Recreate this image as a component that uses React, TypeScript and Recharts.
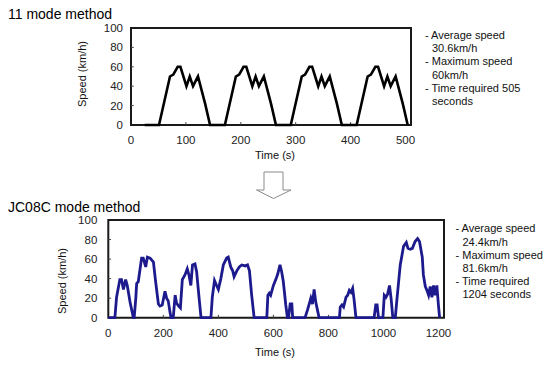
import React from "react";
import {
  LineChart,
  Line,
  XAxis,
  YAxis,
  ReferenceArea,
  ReferenceLine,
} from "recharts";

const FONT = '"Liberation Sans", Arial, sans-serif';

// 11 mode: four repetitions of the same urban cycle
const modeTimes = [
  25, 51, 71, 77, 85, 90, 101, 107, 113, 122, 135, 144,
  171, 191, 197, 205, 210, 221, 227, 233, 242, 255, 264,
  291, 311, 317, 325, 330, 341, 347, 353, 362, 375, 384,
  411, 431, 437, 445, 450, 461, 467, 473, 482, 495, 504,
];
const modeSpeeds = [
  0, 0, 50, 52, 60, 60, 40, 50, 40, 50, 22, 0,
  0, 50, 52, 60, 60, 40, 50, 40, 50, 22, 0,
  0, 50, 52, 60, 60, 40, 50, 40, 50, 22, 0,
  0, 50, 52, 60, 60, 40, 50, 40, 50, 22, 0,
];

// JC08C mode
const jcTimes = [
  0, 24, 30, 42, 48, 55, 63, 69, 79, 91,
  94, 100, 103, 109, 121, 127, 136, 142, 152, 164,
  172, 182, 188, 196, 206, 212, 218, 224, 228, 236,
  243, 248, 255, 262, 269, 279, 287, 293, 300, 306,
  315, 321, 330, 337, 373, 378, 386, 392, 400, 409,
  418, 430, 436, 445, 452, 457, 467, 476, 485, 497,
  506, 513, 521, 530, 576, 580, 585, 590, 600, 610,
  616, 624, 630, 636, 645, 651, 655, 661, 667, 670,
  715, 724, 731, 736, 742, 748, 754, 760, 766, 840,
  843, 849, 855, 864, 870, 876, 882, 888, 893, 900,
  966, 972, 977, 982, 998, 1003, 1009, 1015, 1022, 1028,
  1034, 1043, 1049, 1061, 1073, 1083, 1089, 1097, 1105, 1115,
  1124, 1131, 1141, 1145, 1152, 1158, 1164, 1170, 1176, 1182,
  1188, 1194, 1200, 1204,
];
const jcSpeeds = [
  0, 0, 21, 39, 39, 29, 39, 33, 16, 0,
  0, 20, 35, 37, 61, 61, 52, 62, 61, 57,
  37, 14, 12, 13, 27, 20, 17, 6, 0, 0,
  23, 15, 12, 10, 39, 44, 50, 44, 33, 54,
  55, 47, 20, 0, 0, 21, 38, 34, 29, 40,
  54, 61, 62, 52, 48, 42, 48, 52, 54, 53,
  54, 48, 23, 0, 0, 23, 25, 23, 33, 40,
  45, 54, 47, 37, 13, 0, 0, 14, 14, 0,
  0, 8, 15, 20, 14, 29, 16, 8, 0, 0,
  11, 13, 11, 21, 23, 28, 26, 30, 19, 0,
  0, 13, 13, 0, 0, 23, 21, 24, 33, 19,
  0, 0, 19, 54, 73, 77, 71, 70, 71, 78,
  81, 78, 62, 44, 32, 28, 23, 32, 21, 33,
  23, 33, 12, 0,
];

const speedTicks = [0, 20, 40, 60, 80, 100];
const modeTimeTicks = [0, 100, 200, 300, 400, 500];
const jcTimeTicks = [0, 200, 400, 600, 800, 1000, 1200];

const modeNotes = [
  ["- Average speed", "30.6km/h"],
  ["- Maximum speed", "60km/h"],
  ["- Time required 505", "seconds"],
];
const jcNotes = [
  ["- Average speed", "24.4km/h"],
  ["- Maximum speed", "81.6km/h"],
  ["- Time required", "1204 seconds"],
];

const modeData = modeTimes.map((t, i) => ({ t, v: modeSpeeds[i] }));
const jcData = jcTimes.map((t, i) => ({ t, v: jcSpeeds[i] }));

const tickStyle = { fill: "#222", fontSize: 11.5, fontFamily: FONT };

function Notes({ items, left, top }: { items: string[][]; left: number; top: number }) {
  return (
    <div
      style={{
        position: "absolute",
        left,
        top,
        fontFamily: FONT,
        fontSize: 11,
        lineHeight: "13.2px",
        color: "#111",
        whiteSpace: "nowrap",
      }}
    >
      {items.map((it, i) => (
        <div key={i}>
          <div>{it[0]}</div>
          <div style={{ paddingLeft: 7 }}>{it[1]}</div>
        </div>
      ))}
    </div>
  );
}

function Label({ text, x, y, rotate }: { text: string; x: number; y: number; rotate?: boolean }) {
  return (
    <div
      style={{
        position: "absolute",
        left: x,
        top: y,
        transform: `translate(-50%, -50%)${rotate ? " rotate(-90deg)" : ""}`,
        fontFamily: FONT,
        fontSize: 11,
        lineHeight: "12px",
        color: "#111",
        whiteSpace: "nowrap",
      }}
    >
      {text}
    </div>
  );
}

function Title({ text, top }: { text: string; top: number }) {
  return (
    <div
      style={{
        position: "absolute",
        left: 8,
        top,
        fontFamily: FONT,
        fontSize: 14,
        lineHeight: "14px",
        color: "#000",
        whiteSpace: "nowrap",
      }}
    >
      {text}
    </div>
  );
}

export default function App() {
  return (
    <div
      style={{
        position: "absolute",
        left: 0,
        top: 0,
        width: 555,
        height: 368,
        background: "#fff",
        overflow: "hidden",
      }}
    >
      <Title text="11 mode method" top={6.5} />
      <div style={{ position: "absolute", left: 0, top: 0 }}>
        <LineChart
          width={430}
          height={170}
          data={modeData}
          margin={{ top: 28, right: 19, bottom: 15, left: 91 }}
        >
          <XAxis
            type="number"
            dataKey="t"
            domain={[0, 510]}
            ticks={modeTimeTicks}
            height={30}
            axisLine={false}
            tickLine={false}
            tickSize={0}
            tickMargin={11}
            tick={tickStyle}
          />
          <YAxis
            type="number"
            domain={[0, 100]}
            ticks={speedTicks}
            width={40}
            axisLine={false}
            tickLine={false}
            tickSize={0}
            tickMargin={8}
            tick={tickStyle}
          />
          {modeTimeTicks.slice(1, -1).map((t) => (
            <ReferenceLine
              key={"x" + t}
              segment={[{ x: t, y: 0 }, { x: t, y: 3 }]}
              stroke="#444"
              strokeWidth={1}
            />
          ))}
          {speedTicks.slice(1, -1).map((s) => (
            <ReferenceLine
              key={"y" + s}
              segment={[{ x: 0, y: s }, { x: 5, y: s }]}
              stroke="#444"
              strokeWidth={1}
            />
          ))}
          <ReferenceArea
            x1={0}
            x2={510}
            y1={0}
            y2={100}
            fill="none"
            fillOpacity={0}
            stroke="#1a1a1a"
            strokeWidth={2}
          />
          <Line
            type="linear"
            dataKey="v"
            stroke="#000"
            strokeWidth={2.6}
            dot={false}
            isAnimationActive={false}
          />
        </LineChart>
      </div>
      <Label text="Speed (km/h)" x={82} y={74} rotate />
      <Label text="Time (s)" x={275} y={155} />
      <Notes items={modeNotes} left={425} top={29} />

      <svg
        width={555}
        height={368}
        style={{ position: "absolute", left: 0, top: 0, pointerEvents: "none" }}
      >
        <polygon
          points="264,172 283,172 283,190 291,190 273.5,198.5 256.5,190 264,190"
          fill="#fff"
          stroke="#8a8a8a"
          strokeWidth={1}
        />
      </svg>

      <Title text="JC08C mode method" top={199.6} />
      <div style={{ position: "absolute", left: 0, top: 195 }}>
        <LineChart
          width={460}
          height={173}
          data={jcData}
          margin={{ top: 25, right: 16, bottom: 20.3, left: 68.3 }}
        >
          <XAxis
            type="number"
            dataKey="t"
            domain={[0, 1220]}
            ticks={jcTimeTicks}
            height={30}
            axisLine={false}
            tickLine={false}
            tickSize={0}
            tickMargin={11}
            tick={tickStyle}
          />
          <YAxis
            type="number"
            domain={[0, 100]}
            ticks={speedTicks}
            width={40}
            axisLine={false}
            tickLine={false}
            tickSize={0}
            tickMargin={11}
            tick={tickStyle}
          />
          {jcTimeTicks.slice(1, -1).map((t) => (
            <ReferenceLine
              key={"x" + t}
              segment={[{ x: t, y: 0 }, { x: t, y: 3 }]}
              stroke="#444"
              strokeWidth={1}
            />
          ))}
          {speedTicks.slice(1, -1).map((s) => (
            <ReferenceLine
              key={"y" + s}
              segment={[{ x: 0, y: s }, { x: 10, y: s }]}
              stroke="#444"
              strokeWidth={1}
            />
          ))}
          <ReferenceArea
            x1={0}
            x2={1220}
            y1={0}
            y2={100}
            fill="none"
            fillOpacity={0}
            stroke="#1a1a1a"
            strokeWidth={2}
          />
          <Line
            type="linear"
            dataKey="v"
            stroke="#1c1a8c"
            strokeWidth={2.8}
            dot={false}
            isAnimationActive={false}
          />
        </LineChart>
      </div>
      <Label text="Speed (km/h)" x={62} y={281} rotate />
      <Label text="Time (s)" x={275} y={351.5} />
      <Notes items={jcNotes} left={455.5} top={222.3} />
    </div>
  );
}
